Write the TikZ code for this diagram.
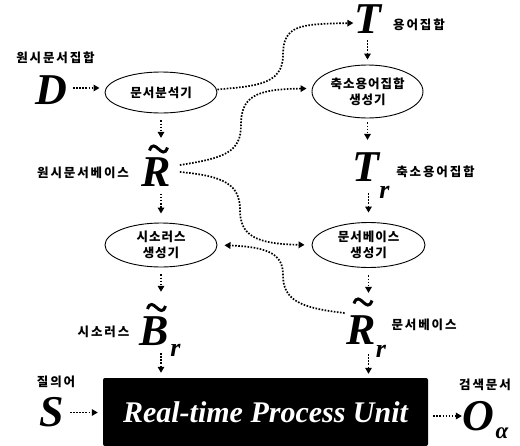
\documentclass[tikz,border=0pt]{standalone}
\usepackage{fontspec}
\setmainfont{Liberation Serif}
\newfontfamily\kr{Noto Sans CJK KR}[LetterSpace=15]
\newfontfamily\kre{Noto Sans CJK KR}[LetterSpace=8]
\usetikzlibrary{arrows.meta,shapes.geometric,calc}
\begin{document}
\begin{tikzpicture}[x=1pt,y=-1pt,
  dots/.style={line width=1.7pt, dash pattern=on 1.6pt off 1.5pt},
  darr/.style={dots,-{Triangle[length=6pt,width=6.5pt]}},
  proc/.style={ellipse, draw, line width=0.9pt, inner sep=0pt, align=center, font=\kre\bfseries\fontsize{12.5}{16}\selectfont},
  klab/.style={inner sep=0pt, font=\kr\bfseries\fontsize{12.5}{14}\selectfont},
  big/.style={inner sep=0pt, font=\bfseries\itshape\fontsize{44}{44}\selectfont},
  sub/.style={inner sep=0pt, font=\bfseries\itshape\fontsize{26}{26}\selectfont},
  tld/.pic={\draw[line width=3pt] (-9,1.5) .. controls (-4,-13) and (4,13) .. (9,-1.5);}
]
\fill[white] (0,0) rectangle (520,445);
\useasboundingbox (0,0) rectangle (520,445);

% processes
\node[proc, minimum width=112pt, minimum height=41pt] (e1) at (161,92.5) {문서분석기};
\node[proc, minimum width=111pt, minimum height=53pt] (e2) at (367.5,91.5) {축소용어집합\\생성기};
\node[proc, minimum width=112pt, minimum height=44pt] (e3) at (161,245) {시소러스\\생성기};
\node[proc, minimum width=113pt, minimum height=45pt] (e4) at (368.5,245) {문서베이스\\생성기};
\node[fill=black, rounded corners=2pt, minimum width=325pt, minimum height=68pt, inner sep=0pt, text=white, font=\bfseries\itshape\fontsize{30}{30}\selectfont] (rt) at (265.5,412) {Real-time Process Unit};

% symbols
\node[big] (D) at (51,90) {D};
\node[big] (T) at (368,19) {T};
\node[big] (Tr) at (366,167.5) {T};
\node[sub] (Trs) at (384.5,192.5) {r};
\node[big] (R) at (156,172) {R};
\node[big] (B) at (154.5,331.5) {B};
\node[sub] (Bs) at (175.5,350) {r};
\node[big] (Rr) at (361.5,330) {R};
\node[sub] (Rrs) at (381,351) {r};
\node[big] (S) at (51.5,412.5) {S};
\node[big] (O) at (478,416) {O};
\node[sub, font=\bfseries\itshape\fontsize{23}{23}\selectfont] (Os) at (502,433) {α};
\pic at (158.5,149) {tld};
\pic at (156.5,307.5) {tld};
\pic at (363,302) {tld};

% labels
\node[klab] (l1) at (55.5,58) {원시문서집합};
\node[klab] (l2) at (419,25) {용어집합};
\node[klab] (l3) at (435.5,172) {축소용어집합};
\node[klab] (l4) at (83,173) {원시문서베이스};
\node[klab] (l5) at (103.5,332) {시소러스};
\node[klab] (l6) at (424,325) {문서베이스};
\node[klab] (l7) at (56,382) {질의어};
\node[klab] (l8) at (485,385) {검색문서};

% straight arrows
\draw[darr, shorten <=7pt, shorten >=19.5pt] (e1.south) -- (e1.south |- R.north);
\draw[darr, shorten <=7pt, shorten >=9pt] (R.south -| e3.north) -- (e3.north);
\draw[darr, shorten <=7pt, shorten >=25pt] (e3.south) -- (e3.south |- B.north);
\draw[darr, shorten <=7pt, shorten >=5pt] (e3.south |- B.south) -- (e3.south |- rt.north);
\draw[darr, shorten <=6.5pt, shorten >=5pt] (T.south -| e2.north) -- (e2.north);
\draw[darr, shorten <=4pt, shorten >=13pt] (e2.south) -- (e2.south |- Tr.north);
\draw[darr, shorten <=11pt, shorten >=9.5pt] (Tr.south -| e4.north) -- (e4.north);
\draw[darr, shorten <=7.5pt, shorten >=22.5pt] (e4.south) -- (e4.south |- Rr.north);
\draw[darr, shorten <=9.5pt, shorten >=4pt] (Rr.south -| e4.south) -- (e4.south |- rt.north);
\draw[darr, shorten <=6pt, shorten >=5pt] ([yshift=2pt]D.east) -- ([yshift=2pt]D.east -| e1.west);
\draw[darr, shorten <=6pt, shorten >=5pt] (S.east) -- (S.east -| rt.west);
\draw[darr, shorten <=5pt] (rt.east |- O.west) -- (O.west);

% curved arrows
\draw[darr, shorten >=1pt] ([yshift=3pt]e1.east) .. controls (255,86) and (283,85) .. (283,55) .. controls (283,25) and (300,24) .. ([yshift=-4pt]T.west);
\draw[darr, shorten >=5pt] ($(R.east)+(9,-7)$) .. controls (225,158) and (241,152) .. (241,125) .. controls (241,97) and (255,89) .. ([yshift=3pt]e2.west);
\draw[darr, shorten >=7pt] ($(R.east)+(9,0)$) .. controls (225,176) and (240,185) .. (240,210) .. controls (240,235) and (255,244) .. (e4.west);
\draw[darr, shorten >=7pt] ($(Rr.west)+(-2,-17)$) .. controls (300,308) and (283,300) .. (283,275) .. controls (283,255) and (270,247) .. (e3.east);
\end{tikzpicture}
\end{document}
